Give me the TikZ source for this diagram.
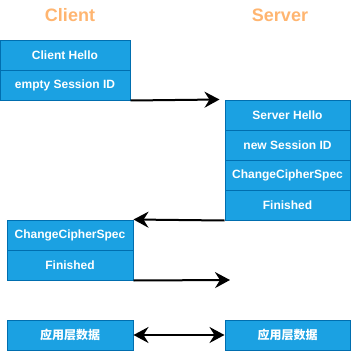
\documentclass[tikz,border=0pt]{standalone}
\usepackage{fontspec}
\setmainfont{Liberation Sans}
\newfontfamily\cjk{Noto Sans CJK SC}
\usetikzlibrary{arrows.meta, positioning}
\definecolor{msgfill}{HTML}{1BA1E2}
\definecolor{msgline}{HTML}{006EAF}
\definecolor{partyorange}{HTML}{FFB570}
\begin{document}
\begin{tikzpicture}[x=1pt, y=-1pt, >={Stealth[length=15pt, width=16pt, inset=5pt]},
  msg/.style={draw=msgline, fill=msgfill, text=white, line width=1pt,
    font=\bfseries\fontsize{12}{14}\selectfont, minimum height=30pt, inner sep=0pt},
  party/.style={text=partyorange, font=\bfseries\fontsize{18}{20}\selectfont},
  link/.style={line width=2pt}]
  \useasboundingbox (0,0) rectangle (351,351);
  % Titles
  \node[party] (client) at (70,15) {Client};
  \node[party] (server) at (280,15) {Server};
  % Client hello
  \foreach \i/\txt in {1/Client Hello, 2/empty Session ID}
    \node[msg, minimum width=130pt] (c\i) at (65,25+30*\i) {\txt};
  % Server reply
  \foreach \i/\txt in {1/Server Hello, 2/new Session ID, 3/ChangeCipherSpec, 4/Finished}
    \node[msg, minimum width=125pt] (s\i) at (287.5,85+30*\i) {\txt};
  % Client finish
  \foreach \i/\txt in {1/ChangeCipherSpec, 2/Finished}
    \node[msg, minimum width=126pt] (f\i) at (70,205+30*\i) {\txt};
  % Application data
  \node[msg, minimum width=126pt] (appc) at (70,335) {\cjk 应用层数据};
  \node[msg, minimum width=125pt] (apps) at (287.5,335) {\cjk 应用层数据};
  % Messages
  \coordinate (tofin) at (230,280);
  \draw[link, ->] (c2.south east) -- ([xshift=-5pt]s1.north west);
  \draw[link, ->] (s4.south west) -- (f1.north east);
  \draw[link, ->] (f2.south east) -- (tofin);
  \draw[link, <->] (appc.east) -- (apps.west);
\end{tikzpicture}
\end{document}
